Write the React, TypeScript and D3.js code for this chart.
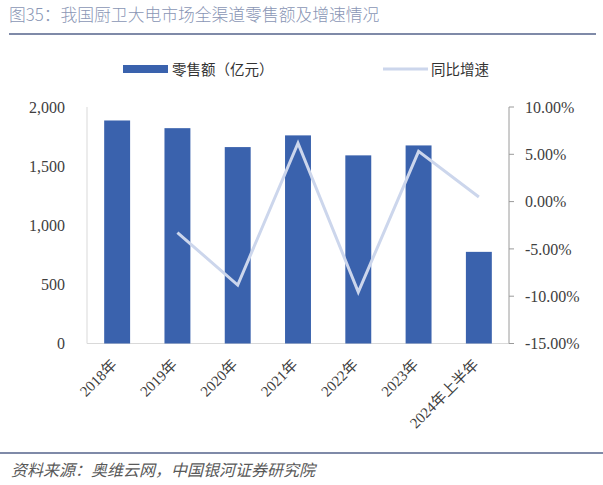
import React from "react";
import * as d3 from "d3";

const categories = ["2018年", "2019年", "2020年", "2021年", "2022年", "2023年", "2024年上半年"];
const salesValues = [1886, 1821, 1661, 1760, 1591, 1675, 775];
const growthValues: (number | null)[] = [null, -3.27, -8.83, 6.18, -9.57, 5.31, 0.49];
const leftTicks = [0, 500, 1000, 1500, 2000];
const rightTicks = [-15, -10, -5, 0, 5, 10];

const W = 603;
const H = 485;
const plotLeft = 87;
const plotRight = 509;
const plotTop = 107;
const plotBottom = 343.5;
const serif = "'Liberation Serif', 'Noto Sans CJK SC', serif";
const sans = "'Noto Sans CJK SC', 'Noto Sans', sans-serif";

export default function App() {
  const x = d3.scaleBand<string>().domain(categories).range([plotLeft, plotRight]).paddingInner(0.57).paddingOuter(0.285);
  const yL = d3.scaleLinear().domain([0, 2000]).range([plotBottom, plotTop]);
  const yR = d3.scaleLinear().domain([-15, 10]).range([plotBottom, plotTop]);
  const fmt = d3.format(",");
  const line = d3
    .line<[string, number | null]>()
    .defined((d) => d[1] !== null)
    .x((d) => (x(d[0]) as number) + x.bandwidth() / 2)
    .y((d) => yR(d[1] as number));
  const pts = categories.map((c, i) => [c, growthValues[i]] as [string, number | null]);

  return (
    <svg width={W} height={H} style={{ position: "absolute", left: 0, top: 0, background: "#fff" }}>
      <text x={9} y={21} fontFamily={sans} fontSize={16.8} fill="#8a96b5" fontWeight={300}>
        图35：我国厨卫大电市场全渠道零售额及增速情况
      </text>
      <line x1={9} x2={596} y1={34} y2={34} stroke="#7f8aa8" strokeWidth={2} />

      {/* legend */}
      <rect x={123} y={65} width={45} height={8} fill="#3a62ad" />
      <text x={172} y={74.5} fontFamily={sans} fontSize={14.5} fill="#333">零售额（亿元）</text>
      <line x1={383} x2={428} y1={69} y2={69} stroke="#ccd6ec" strokeWidth={3} />
      <text x={431} y={74.5} fontFamily={sans} fontSize={14.5} fill="#333">同比增速</text>

      {/* axes lines */}
      <line x1={plotLeft} x2={plotLeft} y1={plotTop} y2={plotBottom} stroke="#d9d9d9" strokeWidth={1} />
      <line x1={plotLeft} x2={plotRight} y1={plotBottom} y2={plotBottom} stroke="#d9d9d9" strokeWidth={1} />
      <line x1={plotRight} x2={plotRight} y1={plotTop} y2={plotBottom} stroke="#9a9a9a" strokeWidth={1} />

      {leftTicks.map((t) => (
        <text key={t} x={65} y={yL(t)} dy="0.35em" textAnchor="end" fontFamily={serif} fontSize={16} fill="#404040">
          {fmt(t)}
        </text>
      ))}
      {rightTicks.map((t) => (
        <g key={t}>
          <line x1={plotRight} x2={plotRight + 5} y1={yR(t)} y2={yR(t)} stroke="#9a9a9a" />
          <text x={525} y={yR(t)} dy="0.35em" fontFamily={serif} fontSize={16} fill="#404040">
            {t.toFixed(2) + "%"}
          </text>
        </g>
      ))}

      {categories.map((c, i) => (
        <rect key={c} x={x(c)} y={yL(salesValues[i])} width={x.bandwidth()} height={plotBottom - yL(salesValues[i])} fill="#3a62ad" />
      ))}

      <path d={line(pts) || ""} fill="none" stroke="#ccd6ec" strokeWidth={3} strokeLinejoin="miter" />

      {categories.map((c) => {
        const cx = (x(c) as number) + x.bandwidth() / 2 - 3;
        return (
          <text key={c} transform={`translate(${cx},${362}) rotate(-45)`} textAnchor="end" dy="0.35em" fontFamily={serif} fontSize={15} fill="#404040">
            {c}
          </text>
        );
      })}

      <line x1={0} x2={W} y1={453} y2={453} stroke="#7f8aa8" strokeWidth={2} />
      <text x={11} y={476} fontFamily={sans} fontSize={16} fontStyle="italic" fill="#595959">
        资料来源：奥维云网，中国银河证券研究院
      </text>
    </svg>
  );
}
